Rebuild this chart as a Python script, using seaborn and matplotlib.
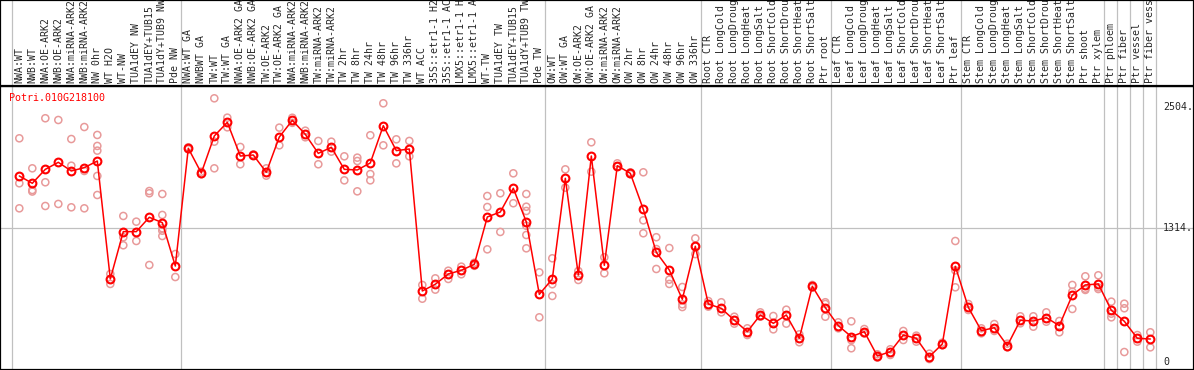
import pandas as pd
import matplotlib.pyplot as plt
import seaborn as sns
from matplotlib.transforms import blended_transform_factory

gene = 'Potri.010G218100'

samples = [
    'NWA:WT', 'NWB:WT', 'NWA:OE-ARK2', 'NWB:OE-ARK2', 'NWA:miRNA-ARK2', 'NWB:miRNA-ARK2',
    'NW 0hr', 'WT H2O', 'WT-NW', 'TUA1dEY NW', 'TUA1dEY+TUB15 NW', 'TUA1dY+TUB9 NW', 'Pde NW',
    'NWA:WT GA', 'NWBWT GA', 'TW:WT', 'TW:WT GA', 'NWA:OE-ARK2 GA', 'NWB:OE-ARK2 GA',
    'TW:OE-ARK2', 'TW:OE-ARK2 GA', 'NWA:miRNA-ARK2', 'NWB:miRNA-ARK2', 'TW:miRNA-ARK2',
    'TW:miRNA-ARK2', 'TW 2hr', 'TW 8hr', 'TW 24hr', 'TW 48hr', 'TW 96hr', 'TW 336hr',
    'WT ACC', '35S::etr1-1 H2O', '35S::etr1-1 ACC', 'LMX5::etr1-1 H2O', 'LMX5::etr1-1 ACC',
    'WT-TW', 'TUA1dEY TW', 'TUA1dEY+TUB15 TW', 'TUA1dY+TUB9 TW', 'Pde TW',
    'OW:WT', 'OW:WT GA', 'OW:OE-ARK2', 'OW:OE-ARK2 GA', 'OW:miRNA-ARK2', 'OW:miRNA-ARK2',
    'OW 2hr', 'OW 8hr', 'OW 24hr', 'OW 48hr', 'OW 96hr', 'OW 336hr',
    'Root CTR', 'Root LongCold', 'Root LongDrought', 'Root LongHeat', 'Root LongSalt',
    'Root ShortCold', 'Root ShortDrought', 'Root ShortHeat', 'Root ShortSalt', 'Ptr root',
    'Leaf CTR', 'Leaf LongCold', 'Leaf LongDrought', 'Leaf LongHeat', 'Leaf LongSalt',
    'Leaf ShortCold', 'Leaf ShortDrought', 'Leaf ShortHeat', 'Leaf ShortSalt', 'Ptr leaf',
    'Stem CTR', 'Stem LongCold', 'Stem LongDrought', 'Stem LongHeat', 'Stem LongSalt',
    'Stem ShortCold', 'Stem ShortDrought', 'Stem ShortHeat', 'Stem ShortSalt', 'Ptr shoot',
    'Ptr xylem', 'Ptr phloem', 'Ptr fiber', 'Ptr vessel', 'Ptr fiber vessel',
]

# sizes of the sample groups (separated by grey lines)
group_sizes = [13, 28, 12, 10, 10, 11, 1, 1, 1, 1]

means = [
    1828, 1756, 1893, 1962, 1877, 1910, 1975, 816, 1281, 1281, 1422, 1369, 943,
    2100, 1857, 2221, 2355, 2024, 2034, 1864, 2211, 2375, 2237, 2050, 2110, 1893,
    1887, 1956, 2322, 2077, 2093, 698, 764, 865, 901, 960, 1425, 1474, 1707, 1376, 665,
    816, 1805, 855, 2024, 950, 1929, 1854, 1500, 1078, 904, 616, 1137,
    570, 527, 410, 298, 462, 380, 462, 233, 744, 534,
    357, 249, 298, 59, 101, 265, 233, 52, 177, 940,
    537, 308, 337, 160, 410, 403, 436, 357, 658, 757,
    767, 508, 400, 233, 226,
]

replicates = [
    [2198, 1756, 1510], [1903, 1690, 1675], [2395, 1766, 1533], [2378, 1553],
    [2191, 1929, 1520], [2309, 1877, 1510], [2231, 2123, 2077, 1828, 1641],
    [865, 767], [1435, 1226, 1147], [1379, 1189], [1680, 1658, 953],
    [1651, 1445, 1314, 1290, 1238], [1061, 835],
    [2110, 2090], [1870, 1845], [2591, 2165, 1903], [2401, 2306], [2113, 1943],
    [2040, 2028], [1903, 1831], [2303, 2129], [2400, 2350], [2273, 2208],
    [2172, 1943], [2165, 2067], [2021, 1785], [2008, 1975, 1677], [2228, 1847, 1785],
    [2542, 2129], [2188, 1952], [2172, 2021], [757, 622], [822, 711], [897, 816],
    [937, 862], [975, 945], [1631, 1523, 1107], [1658, 1278], [1854, 1560],
    [1651, 1526, 1484, 1339, 1248, 1117], [881, 439],
    [1019, 764, 649], [1893, 1713], [894, 806], [2159, 1870], [1029, 872],
    [1952, 1920], [1864, 1845], [1864, 1392, 1265], [1226, 1110, 914],
    [1120, 809, 767], [737, 567, 540], [1215, 1137, 1060],
    [599, 544], [587, 488], [445, 377], [331, 265], [488, 445], [452, 321],
    [514, 377], [272, 194], [757, 731], [587, 570, 445],
    [390, 331], [400, 215, 135], [324, 280], [76, 43], [125, 69], [305, 216],
    [259, 200], [82, 29], [190, 165], [1189, 900, 734],
    [570, 511], [331, 282], [373, 305], [180, 144], [449, 380], [449, 347],
    [488, 396], [403, 292], [757, 691, 521], [842, 720, 708],
    [852, 733, 717], [593, 475, 439], [573, 528, 98], [265, 200], [292, 144],
]

tick_values = [2504, 1314, 0]
tick_labels = ['2504.', '1314.', '0']

mean_df = pd.DataFrame({'pos': range(len(samples)), 'value': means})
rep_df = pd.DataFrame(
    [(i, v) for i, reps in enumerate(replicates) for v in reps],
    columns=['pos', 'value'])

sns.set_style('white')
plt.rcParams['font.family'] = ['DejaVu Sans Mono']

W, H = 1194, 370
fig = plt.figure(figsize=(W / 100, H / 100), dpi=100)
split = 86  # px from top where header ends
ax = fig.add_axes([0, 0, 1, (H - split) / H])
hax = fig.add_axes([0, (H - split) / H, 1, split / H], sharex=ax)

grey = '#c0c0c0'
xlim = (-1.485, 90.36)

# separators between groups
bounds = [-0.6]
c = 0
for g in group_sizes:
    c += g
    bounds.append(c - 0.6)
for b in bounds:
    ax.axvline(b, color=grey, lw=0.9, zorder=0)
    hax.axvline(b, color=grey, lw=0.9, zorder=0)

ax.axhline(1314, color=grey, lw=0.9, zorder=0)

sns.scatterplot(data=rep_df, x='pos', y='value', ax=ax, marker='o', s=26,
                facecolor='none', edgecolor='#e89a9a', linewidth=1.1, zorder=2)
sns.lineplot(data=mean_df, x='pos', y='value', ax=ax, color='red', lw=1.1,
             marker='o', markersize=5.6, markerfacecolor='none',
             markeredgecolor='red', markeredgewidth=1.5, zorder=3)

ax.set_xlim(*xlim)
ax.set_ylim(-78.6, 2712)
ax.set_xlabel('')
ax.set_ylabel('')
ax.set_xticks([])
ax.set_yticks([])
for s in ax.spines.values():
    s.set_color('black')
    s.set_linewidth(1.6)

tr = blended_transform_factory(ax.transAxes, ax.transData)
for v, lab in zip(tick_values, tick_labels):
    ax.text(1163 / W, v, lab, transform=tr, ha='left', va='center', fontsize=7.2)

fig.text(9.3 / W, 1 - 93 / H, gene, color='red', fontsize=7.2, ha='left', va='top')

# header with rotated sample names (the header only has room for 14 characters)
hax.set_ylim(0, 1)
hax.set_xticks([])
hax.set_yticks([])
for s in hax.spines.values():
    s.set_color('black')
    s.set_linewidth(1.6)
for i, name in enumerate(samples):
    hax.text(i, 3 / split, name[:14].rstrip(), rotation=90, ha='center', va='bottom',
             fontsize=7.1)

fig.savefig('out.png', dpi=100)
